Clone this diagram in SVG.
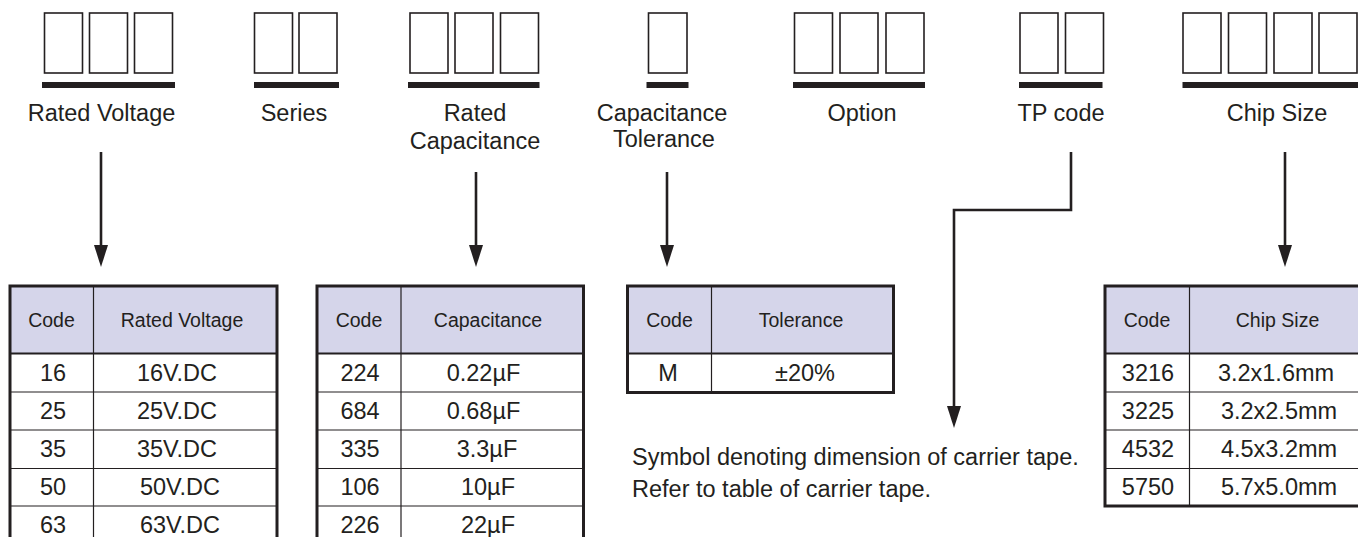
<svg xmlns="http://www.w3.org/2000/svg" width="1358" height="537" viewBox="0 0 1358 537">
<style>
  text { font-family: "Liberation Sans", Arial, sans-serif; fill: #231f20; }
  .lbl { font-size: 23.5px; text-anchor: middle; }
  .hd { font-size: 19.5px; text-anchor: middle; }
  .cell { font-size: 23.5px; text-anchor: middle; }
  .note { font-size: 23.5px; }
  .box { fill: #fff; stroke: #231f20; stroke-width: 1.6; }
  .bar { fill: #231f20; }
  .hdr { fill: #d5d5ea; }
  .outer { fill: none; stroke: #231f20; stroke-width: 3; }
  .grid { stroke: #231f20; stroke-width: 1.2; fill: none; }
  .hline { stroke: #231f20; stroke-width: 2; }
  .conn { fill: none; stroke: #231f20; stroke-width: 2.6; }
</style>
<defs>
  <marker id="ah" markerUnits="userSpaceOnUse" markerWidth="22" markerHeight="14" viewBox="0 0 22 14" refX="5" refY="7" orient="auto">
    <path d="M0,0 L22,7 L0,14 Z" fill="#231f20"/>
  </marker>
</defs>

<!-- code boxes -->
<g id="node-rated-voltage">
  <rect class="box" x="44.5" y="13" width="38" height="60"/>
  <rect class="box" x="89.5" y="13" width="38" height="60"/>
  <rect class="box" x="134.5" y="13" width="38" height="60"/>
  <rect class="bar" x="42" y="82" width="133" height="6"/>
  <text class="lbl" x="101.5" y="121">Rated Voltage</text>
</g>
<g id="node-series">
  <rect class="box" x="254.5" y="13" width="38" height="60"/>
  <rect class="box" x="299" y="13" width="38" height="60"/>
  <rect class="bar" x="254" y="82" width="85" height="6"/>
  <text class="lbl" x="294" y="121">Series</text>
</g>
<g id="node-rated-capacitance">
  <rect class="box" x="410" y="13" width="38" height="60"/>
  <rect class="box" x="455" y="13" width="38" height="60"/>
  <rect class="box" x="500.5" y="13" width="38" height="60"/>
  <rect class="bar" x="408" y="82" width="131.5" height="6"/>
  <text class="lbl" x="475" y="121">Rated</text>
  <text class="lbl" x="475" y="149">Capacitance</text>
</g>
<g id="node-capacitance-tolerance">
  <rect class="box" x="648.5" y="13" width="38.5" height="60"/>
  <rect class="bar" x="646.5" y="82" width="42" height="6"/>
  <text class="lbl" x="662" y="121">Capacitance</text>
  <text class="lbl" x="664" y="147">Tolerance</text>
</g>
<g id="node-option">
  <rect class="box" x="794.5" y="13" width="38" height="60"/>
  <rect class="box" x="840" y="13" width="38" height="60"/>
  <rect class="box" x="886" y="13" width="38" height="60"/>
  <rect class="bar" x="793" y="82" width="132" height="6"/>
  <text class="lbl" x="862" y="121">Option</text>
</g>
<g id="node-tp-code">
  <rect class="box" x="1020" y="13" width="38" height="60"/>
  <rect class="box" x="1065.5" y="13" width="38" height="60"/>
  <rect class="bar" x="1019" y="82" width="83.5" height="6"/>
  <text class="lbl" x="1061" y="121">TP code</text>
</g>
<g id="node-chip-size">
  <rect class="box" x="1183" y="13" width="38" height="60"/>
  <rect class="box" x="1228.5" y="13" width="38" height="60"/>
  <rect class="box" x="1274" y="13" width="38" height="60"/>
  <rect class="box" x="1319" y="13" width="38" height="60"/>
  <rect class="bar" x="1182.5" y="82" width="180" height="6"/>
  <text class="lbl" x="1277" y="121">Chip Size</text>
</g>

<!-- connectors -->
<g id="connectors">
  <path class="conn" d="M101,152 V250" marker-end="url(#ah)"/>
  <path class="conn" d="M476,172 V250" marker-end="url(#ah)"/>
  <path class="conn" d="M667,172 V250" marker-end="url(#ah)"/>
  <path class="conn" d="M1071,152 V210 H954 V411" marker-end="url(#ah)"/>
  <path class="conn" d="M1285,152 V250" marker-end="url(#ah)"/>
</g>

<!-- tables -->
<g id="table-rated-voltage">
  <rect class="hdr" x="10" y="286" width="267" height="67"/>
  <line class="grid" x1="10" y1="392" x2="277" y2="392"/>
  <line class="grid" x1="10" y1="430" x2="277" y2="430"/>
  <line class="grid" x1="10" y1="468.5" x2="277" y2="468.5"/>
  <line class="grid" x1="10" y1="506" x2="277" y2="506"/>
  <line class="grid" x1="93.5" y1="286" x2="93.5" y2="545"/>
  <line class="hline" x1="10" y1="353.5" x2="277" y2="353.5"/>
  <rect class="outer" x="10" y="286" width="267" height="262"/>
  <text class="hd" x="51.5" y="327">Code</text>
  <text class="hd" x="182" y="327">Rated Voltage</text>
  <text class="cell" x="53" y="381">16</text><text class="cell" x="177" y="381">16V.DC</text>
  <text class="cell" x="53" y="419">25</text><text class="cell" x="177" y="419">25V.DC</text>
  <text class="cell" x="53" y="457">35</text><text class="cell" x="177" y="457">35V.DC</text>
  <text class="cell" x="53" y="495">50</text><text class="cell" x="180" y="495">50V.DC</text>
  <text class="cell" x="53" y="533">63</text><text class="cell" x="180" y="533">63V.DC</text>
</g>
<g id="table-capacitance">
  <rect class="hdr" x="317" y="286" width="266.5" height="67"/>
  <line class="grid" x1="317" y1="392" x2="583.5" y2="392"/>
  <line class="grid" x1="317" y1="430" x2="583.5" y2="430"/>
  <line class="grid" x1="317" y1="468.5" x2="583.5" y2="468.5"/>
  <line class="grid" x1="317" y1="506" x2="583.5" y2="506"/>
  <line class="grid" x1="401" y1="286" x2="401" y2="545"/>
  <line class="hline" x1="317" y1="353.5" x2="583.5" y2="353.5"/>
  <rect class="outer" x="317" y="286" width="266.5" height="262"/>
  <text class="hd" x="359" y="327">Code</text>
  <text class="hd" x="488" y="327">Capacitance</text>
  <text class="cell" x="360" y="381">224</text><text class="cell" x="483.5" y="381">0.22µF</text>
  <text class="cell" x="360" y="419">684</text><text class="cell" x="483.5" y="419">0.68µF</text>
  <text class="cell" x="360" y="457">335</text><text class="cell" x="487" y="457">3.3µF</text>
  <text class="cell" x="360" y="495">106</text><text class="cell" x="488" y="495">10µF</text>
  <text class="cell" x="360" y="533">226</text><text class="cell" x="488" y="533">22µF</text>
</g>
<g id="table-tolerance">
  <rect class="hdr" x="627.5" y="286" width="266" height="67"/>
  <line class="grid" x1="711.5" y1="286" x2="711.5" y2="392"/>
  <line class="hline" x1="627.5" y1="353.5" x2="893.5" y2="353.5"/>
  <rect class="outer" x="627.5" y="286" width="266" height="106.5"/>
  <text class="hd" x="669.5" y="327">Code</text>
  <text class="hd" x="801" y="327">Tolerance</text>
  <text class="cell" x="668" y="381">M</text>
  <text class="cell" x="805" y="381">±20%</text>
</g>
<g id="table-chip-size">
  <rect class="hdr" x="1105" y="286" width="265" height="67"/>
  <line class="grid" x1="1105" y1="392" x2="1370" y2="392"/>
  <line class="grid" x1="1105" y1="430" x2="1370" y2="430"/>
  <line class="grid" x1="1105" y1="468.5" x2="1370" y2="468.5"/>
  <line class="grid" x1="1189.5" y1="286" x2="1189.5" y2="506"/>
  <line class="hline" x1="1105" y1="353.5" x2="1370" y2="353.5"/>
  <rect class="outer" x="1105" y="286" width="265" height="220"/>
  <text class="hd" x="1147" y="327">Code</text>
  <text class="hd" x="1277.5" y="327">Chip Size</text>
  <text class="cell" x="1148" y="381">3216</text><text class="cell" x="1276" y="381">3.2x1.6mm</text>
  <text class="cell" x="1148" y="419">3225</text><text class="cell" x="1279" y="419">3.2x2.5mm</text>
  <text class="cell" x="1148" y="457">4532</text><text class="cell" x="1279" y="457">4.5x3.2mm</text>
  <text class="cell" x="1148" y="495">5750</text><text class="cell" x="1279" y="495">5.7x5.0mm</text>
</g>

<g id="note-tp-code">
  <text class="note" x="632" y="465">Symbol denoting dimension of carrier tape.</text>
  <text class="note" x="632" y="497">Refer to table of carrier tape.</text>
</g>
</svg>
